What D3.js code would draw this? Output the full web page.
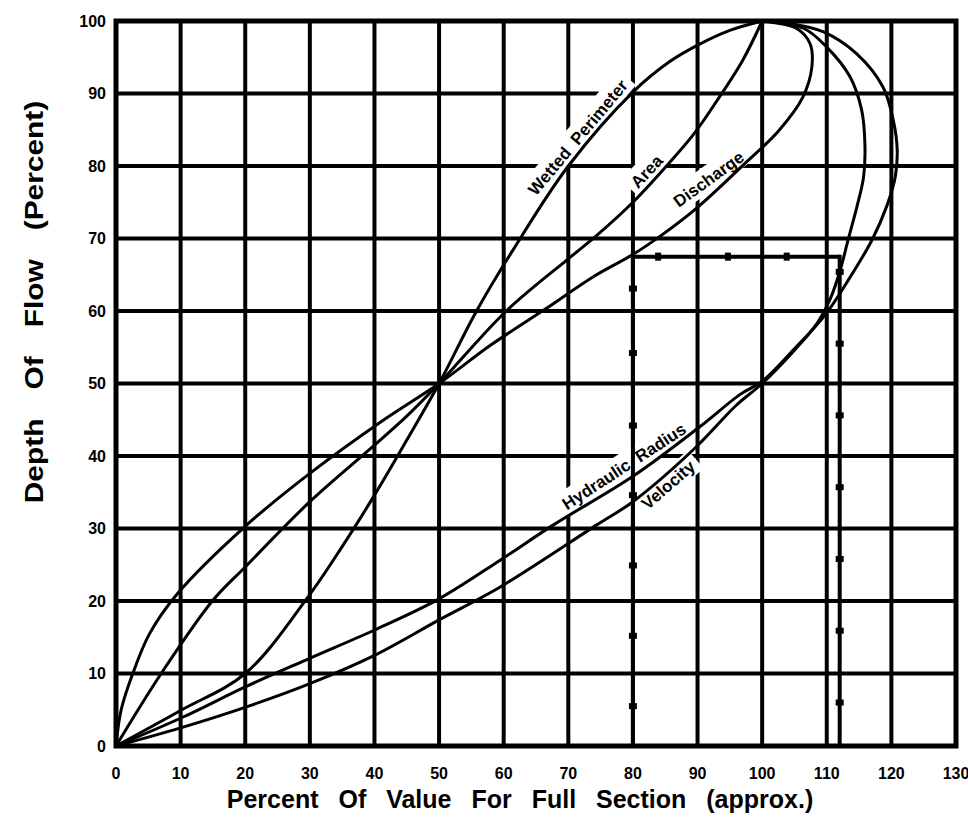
<!DOCTYPE html>
<html lang="en">
<head>
<meta charset="utf-8">
<title>Hydraulic elements of a circular section</title>
<script src="https://d3js.org/d3.v7.min.js"></script>
<style>
  body { margin: 0; background: #fff; }
  svg { display: block; }
  text { font-family: "Liberation Sans", Arial, Helvetica, sans-serif; font-weight: bold; fill: #000; }
</style>
</head>
<body>
<script>
// values: [percent of full-section value, depth of flow %]
var xTicks = [0, 10, 20, 30, 40, 50, 60, 70, 80, 90, 100, 110, 120, 130];
var yTicks = [0, 10, 20, 30, 40, 50, 60, 70, 80, 90, 100];

var wettedPerimeter = [[0,0],[10,4.9],[20,10],[29.5,20.3],[35,27.5],[40,34.6],[45,42.2],[50,50],
  [55.8,60],[61.5,68.5],[70,80],[80,90.2],[85.7,94.4],[90.1,96.7],[95,98.7],[100,100]];
var area = [[0,0],[7,10],[15,20.1],[20,24.7],[30,33.7],[40,41.5],[45,45.5],[50,50],
  [60.4,60],[70,67.2],[74.5,70.5],[80,75],[85.2,80],[89.5,84.5],[93,89],[97,94.6],[100,100]];
var discharge = [[0,0],[0.8,5],[2.6,10],[5.2,15.5],[9.5,21],[20,30.3],[30,37.6],[41.3,44.9],[50,50],
  [58,55.3],[66.5,60.3],[74,64.8],[80,67.8],[84.5,70.5],[90,74.3],[97.5,80.5],[102.5,84.8],
  [106.3,89.5],[107.7,93.7],[107.4,96.9],[105.3,99],[101.7,99.8],[100,100]];
var hydraulicRadius = [[0,0],[10.4,4],[20,8.15],[30,12.1],[40,16],[50,20.3],[59.4,25.6],[67.7,30.5],
  [80,37.2],[90.3,44],[96.6,48.5],[100,50.3],[105,54.8],[109.7,59.4],[113.5,64.5],[117,69.8],
  [119.3,74.5],[120.6,78.5],[120.9,82.2],[120.3,86.3],[118.7,90.9],[114.6,95.5],[109.5,98.5],[104,99.7],[100,100]];
var velocity = [[0,0],[10,2.5],[20.2,5.4],[30,8.6],[40,12.5],[50,17.4],[59.4,21.9],[74.4,30.5],[80,33.7],
  [89.5,41],[96,47],[100,50],[105,54.6],[108.5,58.3],[110.6,61.8],[112.1,65.7],[113.3,69.8],[114.7,74.5],
  [115.7,78.5],[115.9,83.1],[115.4,87.7],[113.6,92.3],[110,96.4],[106.4,99],[100,100]];

// worked example: depth 67.5 % -> discharge 80 %, velocity 112 %
var exampleDepth = 67.5;
var exampleX = [80, 112];
var exampleRowMarks = [83.9, 94.7, 103.8];
var exampleColMarks80 = [63.1, 54.2, 44.2, 34.6, 24.9, 15.2, 5.5];
var exampleColMarks112 = [65.4, 55.5, 45.6, 35.7, 25.8, 15.9, 6.0];

var curveNames = ["Wetted  Perimeter", "Area", "Discharge", "Hydraulic  Radius", "Velocity"];

var w = 968, h = 835;
var pLeft = 116, pTop = 21, pRight = 956, pBottom = 746;

var xScale = d3.scaleLinear().domain([0, 130]).range([pLeft, pRight]);
var yScale = d3.scaleLinear().domain([0, 100]).range([pBottom, pTop]);

var svg = d3.select("body").append("svg")
  .attr("width", w)
  .attr("height", h);

svg.append("rect").attr("width", w).attr("height", h).attr("fill", "#fff");

// grid
var grid = svg.append("g").attr("stroke", "#000").attr("stroke-width", 4);
grid.selectAll(".vx")
  .data(xTicks.slice(1, -1))
  .enter().append("line")
  .attr("x1", function (d) { return xScale(d); })
  .attr("x2", function (d) { return xScale(d); })
  .attr("y1", pTop).attr("y2", pBottom);
grid.selectAll(".hy")
  .data(yTicks.slice(1, -1))
  .enter().append("line")
  .attr("y1", function (d) { return yScale(d); })
  .attr("y2", function (d) { return yScale(d); })
  .attr("x1", pLeft).attr("x2", pRight);

var boxLayer = svg.append("g");

// construction lines of the worked example
var ex = svg.append("g").attr("stroke", "#000").attr("stroke-width", 4).attr("fill", "#000");
ex.append("line")
  .attr("x1", xScale(exampleX[0])).attr("x2", xScale(exampleX[1]))
  .attr("y1", yScale(exampleDepth)).attr("y2", yScale(exampleDepth));
exampleX.forEach(function (v) {
  ex.append("line")
    .attr("x1", xScale(v)).attr("x2", xScale(v))
    .attr("y1", yScale(exampleDepth) - 2).attr("y2", yScale(0));
});
ex.selectAll(".mr").data(exampleRowMarks).enter().append("rect")
  .attr("stroke", "none")
  .attr("x", function (d) { return xScale(d) - 3; })
  .attr("y", yScale(exampleDepth) - 4)
  .attr("width", 6).attr("height", 8);
ex.selectAll(".m80").data(exampleColMarks80).enter().append("rect")
  .attr("stroke", "none")
  .attr("x", xScale(exampleX[0]) - 4)
  .attr("y", function (d) { return yScale(d) - 3; })
  .attr("width", 8).attr("height", 6);
ex.selectAll(".m112").data(exampleColMarks112).enter().append("rect")
  .attr("stroke", "none")
  .attr("x", xScale(exampleX[1]) - 4)
  .attr("y", function (d) { return yScale(d) - 3; })
  .attr("width", 8).attr("height", 6);

// curves
var line = d3.line()
  .x(function (d) { return xScale(d[0]); })
  .y(function (d) { return yScale(d[1]); })
  .curve(d3.curveCatmullRom.alpha(0.5));

svg.append("g").selectAll("path")
  .data([wettedPerimeter, area, discharge, hydraulicRadius, velocity])
  .enter().append("path")
  .attr("d", line)
  .attr("fill", "none")
  .attr("stroke", "#000")
  .attr("stroke-width", 3)
  .attr("stroke-linejoin", "round");

// frame
svg.append("rect")
  .attr("x", pLeft).attr("y", pTop)
  .attr("width", pRight - pLeft).attr("height", pBottom - pTop)
  .attr("fill", "none").attr("stroke", "#000").attr("stroke-width", 5);

// curve labels: anchor point (data units) and angle
var labelPos = [
  { x: 65.0, y: 75.8, a: -50 },
  { x: 80.8, y: 76.8, a: -47 },
  { x: 87.1, y: 74.2, a: -36 },
  { x: 69.8, y: 32.5, a: -33 },
  { x: 82.3, y: 32.5, a: -41 }
];

var textLayer = svg.append("g");
curveNames.forEach(function (name, i) {
  var p = labelPos[i];
  var tr = "translate(" + xScale(p.x) + "," + yScale(p.y) + ")rotate(" + p.a + ")";
  var t = textLayer.append("text")
    .attr("transform", tr)
    .attr("font-size", 17)
    .style("white-space", "pre")
    .text(name);
  var bb = t.node().getBBox();
  boxLayer.append("rect")
    .attr("transform", tr)
    .attr("x", bb.x - 5).attr("y", bb.y - 4)
    .attr("width", bb.width + 10).attr("height", bb.height + 5)
    .attr("fill", "#fff");
});

// tick labels
svg.append("g").selectAll("text")
  .data(yTicks)
  .enter().append("text")
  .attr("x", pLeft - 10)
  .attr("y", function (d) { return yScale(d); })
  .attr("dy", "0.35em")
  .attr("text-anchor", "end")
  .attr("font-size", 16)
  .text(function (d) { return d; });

svg.append("g").selectAll("text")
  .data(xTicks)
  .enter().append("text")
  .attr("x", function (d) { return xScale(d); })
  .attr("y", 773)
  .attr("dy", "0.35em")
  .attr("text-anchor", "middle")
  .attr("font-size", 16)
  .text(function (d) { return d; });

// axis titles
svg.append("text")
  .attr("text-anchor", "middle")
  .attr("transform", "translate(" + ((pLeft + pRight) / 2 - 16) + ",808)")
  .attr("font-size", 25)
  .attr("word-spacing", 13)
  .text("Percent Of Value For Full Section (approx.)");

svg.append("text")
  .attr("text-anchor", "middle")
  .attr("transform", "translate(43,302)rotate(-90)scale(1.15,1)")
  .attr("font-size", 26)
  .attr("word-spacing", 18)
  .text("Depth Of Flow (Percent)");
</script>
</body>
</html>
